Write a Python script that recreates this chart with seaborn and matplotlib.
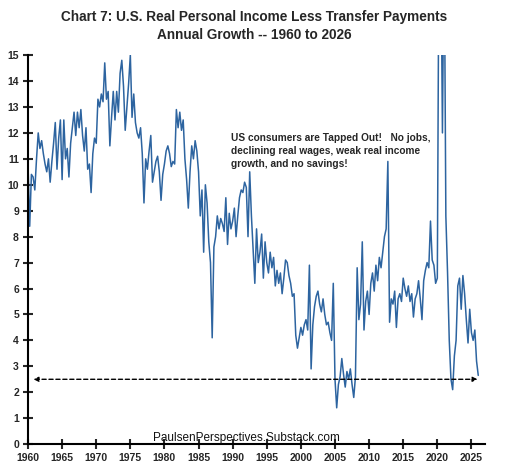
import pandas as pd
import seaborn as sns
import matplotlib.pyplot as plt

# quarterly readings of annual growth (%), starting 1960 Q1
growth = [
    10.8, 8.4, 10.4, 10.3,   # 1960
    9.8, 11.0, 12.0, 11.4,   # 1961
    11.7, 11.2, 10.8, 10.5,  # 1962
    11.0, 10.1, 10.9, 11.6,  # 1963
    12.4, 10.6, 11.8, 12.5,  # 1964
    10.2, 12.5, 11.0, 11.4,  # 1965
    10.3, 11.6, 12.2, 12.8,  # 1966
    11.9, 12.8, 12.2, 12.9,  # 1967
    11.9, 11.3, 12.2, 10.6,  # 1968
    10.8, 9.7, 11.2, 11.8,   # 1969
    11.6, 13.3, 13.0, 13.5,  # 1970
    13.2, 14.7, 13.3, 13.6,  # 1971
    11.5, 12.6, 13.6, 12.5,  # 1972
    13.6, 12.8, 14.3, 14.8,  # 1973
    13.8, 12.1, 13.0, 13.9,  # 1974
    15.0, 12.6, 13.5, 12.4,  # 1975
    12.0, 11.8, 12.2, 11.2,  # 1976
    9.3, 11.0, 10.6, 11.3,   # 1977
    11.9, 10.1, 10.5, 10.9,  # 1978
    11.1, 10.5, 9.4, 10.4,   # 1979
    10.8, 11.3, 11.5, 11.2,  # 1980
    10.7, 10.9, 10.8, 12.9,  # 1981
    12.2, 12.8, 12.1, 12.5,  # 1982
    11.0, 10.2, 9.1, 10.5,   # 1983
    11.5, 11.0, 11.7, 11.3,  # 1984
    10.5, 8.8, 9.8, 7.4,     # 1985
    10.0, 9.3, 7.8, 7.0,     # 1986
    4.1, 7.6, 8.0, 8.8,      # 1987
    8.3, 8.7, 8.5, 8.2,      # 1988
    9.5, 7.7, 8.9, 8.3,      # 1989
    8.6, 9.1, 8.0, 8.8,      # 1990
    9.5, 9.8, 9.7, 10.1,     # 1991
    9.9, 8.0, 10.5, 8.8,     # 1992
    7.5, 6.2, 8.3, 7.0,      # 1993
    7.4, 8.1, 6.4, 7.8,      # 1994
    7.0, 6.6, 7.4, 6.8,      # 1995
    7.2, 6.1, 6.7, 6.2,      # 1996
    6.6, 5.8, 6.4, 7.1,      # 1997
    7.0, 6.5, 6.2, 5.7,      # 1998
    5.8, 4.2, 3.7, 4.1,      # 1999
    4.5, 4.2, 4.6, 4.8,      # 2000
    4.4, 6.9, 2.9, 4.6,      # 2001
    5.3, 5.7, 5.9, 5.4,      # 2002
    5.1, 5.6, 5.0, 4.6,      # 2003
    4.7, 4.3, 4.0, 6.2,      # 2004
    2.5, 1.4, 2.3, 2.6,      # 2005
    3.3, 2.7, 2.2, 2.8,      # 2006
    2.5, 2.9, 2.3, 1.8,      # 2007
    2.6, 6.8, 4.8, 5.4,      # 2008
    7.8, 4.4, 5.5, 5.9,      # 2009
    5.0, 6.2, 6.6, 5.9,      # 2010
    6.9, 6.3, 7.2, 6.8,      # 2011
    7.4, 8.0, 8.3, 10.9,     # 2012
    4.7, 5.6, 5.4, 5.9,      # 2013
    4.5, 5.6, 5.8, 5.5,      # 2014
    6.4, 6.0, 5.7, 6.1,      # 2015
    5.5, 5.8, 4.9, 5.6,      # 2016
    5.8, 6.3, 5.6, 4.8,      # 2017
    6.3, 6.7, 7.0, 6.8,      # 2018
    8.6, 7.1, 6.9, 6.2,      # 2019
    6.4, 20.0, 20.0, 12.0,   # 2020
    20.0, 8.8, 6.6, 4.0,     # 2021
    2.5, 2.1, 3.4, 4.0,      # 2022
    6.1, 6.4, 5.2, 6.5,      # 2023
    5.8, 4.8, 3.9, 5.2,      # 2024
    4.3, 4.0, 4.4, 3.2,      # 2025
    2.65,                    # 2026
]
start_year = 1960
reference_level = 2.5

title = ("Chart 7: U.S. Real Personal Income Less Transfer Payments\n"
         "Annual Growth -- 1960 to 2026")
note = ("US consumers are Tapped Out!   No jobs,\n"
        "declining real wages, weak real income\n"
        "growth, and no savings!")
source = "PaulsenPerspectives.Substack.com"

df = pd.DataFrame({
    "year": [start_year + i / 4 for i in range(len(growth))],
    "growth": growth,
})

sns.set_style("ticks")
plt.rcParams["font.family"] = ["Liberation Sans", "DejaVu Sans"]

fig = plt.figure(figsize=(5.09, 4.75), dpi=100)
ax = fig.add_axes([0.055, 0.065, 0.898, 0.819])

sns.lineplot(data=df, x="year", y="growth", ax=ax, color="#2d64a0", linewidth=1.1)

ax.set_xlim(1960, 2027)
ax.set_ylim(0, 15)
ax.set_xticks(range(1960, 2026, 5))
ax.set_yticks(range(0, 16))
ax.set_xlabel("")
ax.set_ylabel("")
sns.despine(ax=ax)
for side in ["left", "bottom"]:
    ax.spines[side].set_linewidth(1.5)
    ax.spines[side].set_color("black")
ax.tick_params(direction="inout", length=7, width=1.5, labelsize=7.5, pad=3)
for lbl in ax.get_xticklabels() + ax.get_yticklabels():
    lbl.set_fontweight("bold")

ax.annotate("", xy=(2026.3, reference_level), xytext=(1960.4, reference_level),
            arrowprops=dict(arrowstyle="<|-|>", linestyle=(0, (3, 2)), lw=1,
                            color="black", mutation_scale=7))

ax.text(1989.7, 12.0, note, fontsize=7.3, fontweight="bold", va="top",
        ha="left", linespacing=1.35)
ax.text(1992.0, 0.13, source, fontsize=8.5, ha="center", va="baseline",
        color="#111111")

fig.suptitle(title, x=0.5, y=0.978, fontsize=9.8, fontweight="bold",
             linespacing=1.35)

fig.savefig("out.png", dpi=100)
